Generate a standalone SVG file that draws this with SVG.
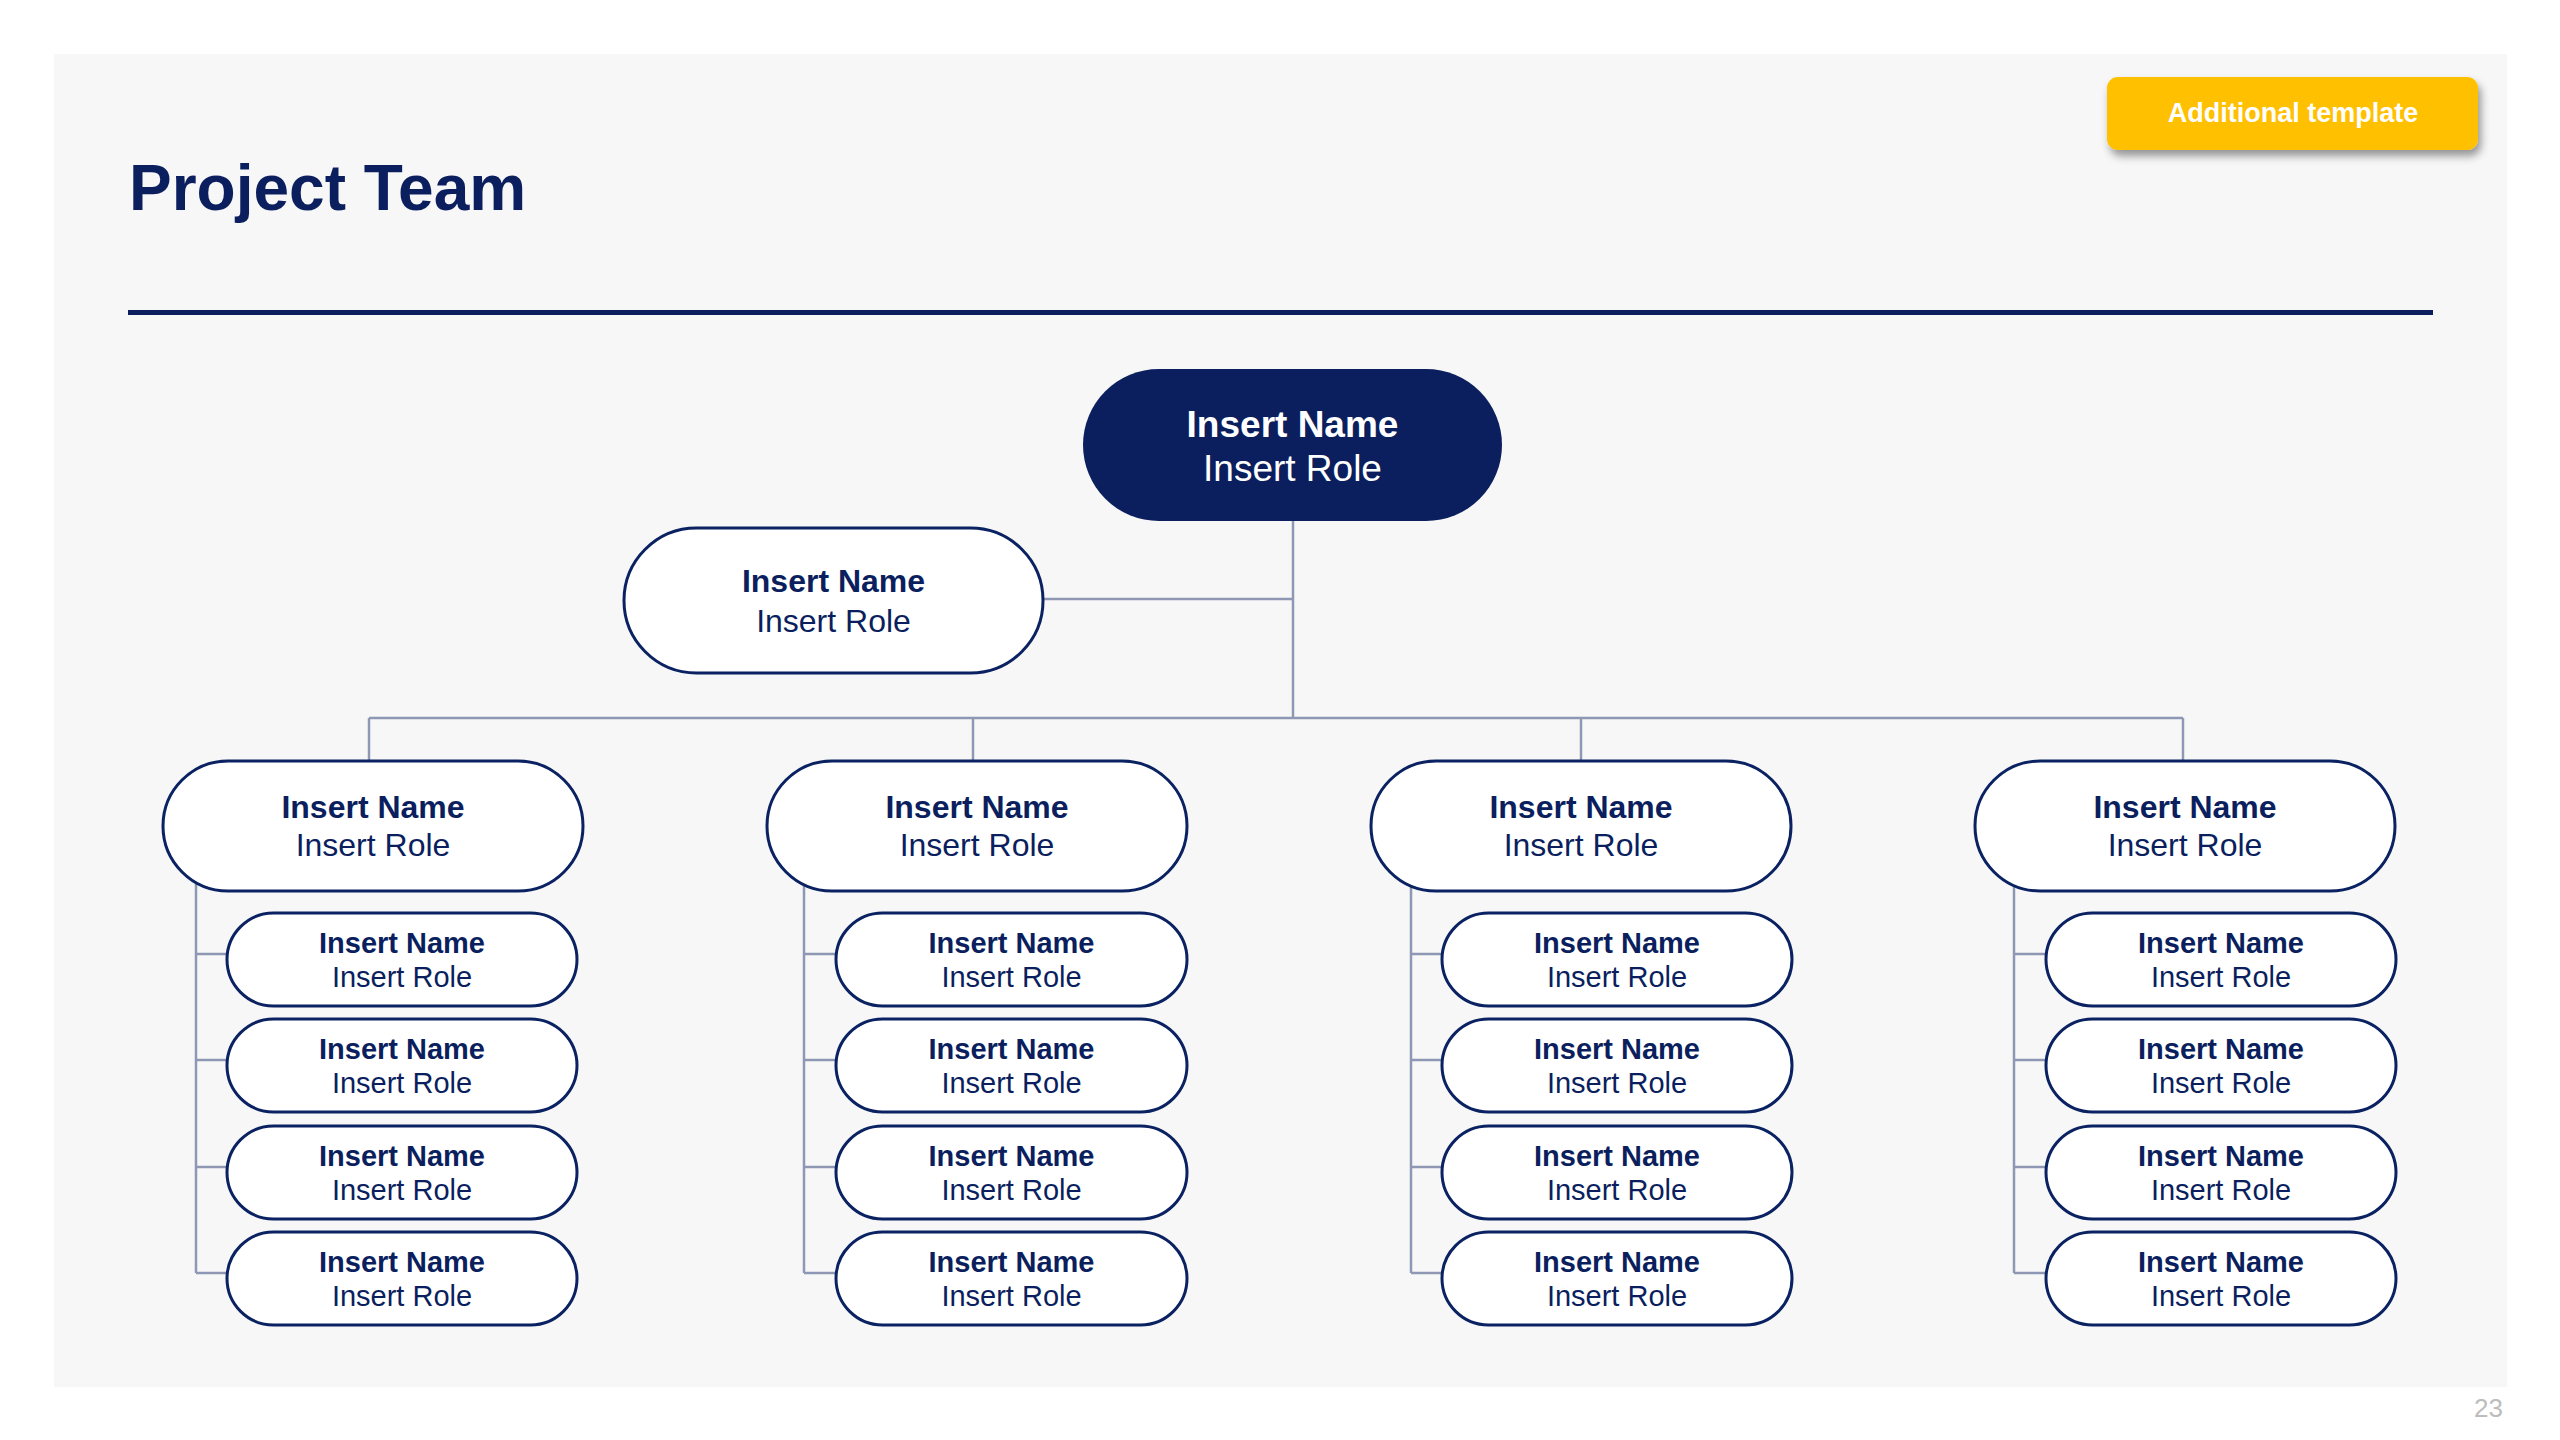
<svg xmlns="http://www.w3.org/2000/svg" width="2560" height="1440" viewBox="0 0 2560 1440">
  <defs>
    <style>
      .n { fill: #ffffff; stroke: #0b2262; stroke-width: 3; }
      .top { fill: #0b1f5e; stroke: none; }
      .c { fill: none; stroke: #8e98b4; stroke-width: 2.5; }
      .t { font-family: "Liberation Sans", Arial, sans-serif; text-anchor: middle; fill: #0b1f5e; }
      .b { font-weight: bold; }
    </style>
    <filter id="sh" x="-10%" y="-30%" width="125%" height="170%">
      <feDropShadow dx="3" dy="6" stdDeviation="4" flood-color="#000" flood-opacity="0.4"/>
    </filter>
  </defs>
  <rect x="0" y="0" width="2560" height="1440" fill="#ffffff"/>
  <rect x="54" y="54" width="2453" height="1333" fill="#f7f7f7"/>

  <g id="title">
    <text x="129" y="210" font-family="'Liberation Sans', Arial, sans-serif" font-size="64" font-weight="bold" fill="#0b1f5e">Project Team</text>
    <rect x="128" y="310" width="2305" height="5" fill="#0b1f5e"/>
  </g>

  <g id="btn-additional">
    <rect x="2107" y="77" width="371" height="73" rx="11" fill="#ffc000" filter="url(#sh)"/>
    <text x="2293" y="122" font-family="'Liberation Sans', Arial, sans-serif" font-size="27" font-weight="bold" fill="#ffffff" text-anchor="middle">Additional template</text>
  </g>

  <g id="connectors">
    <line class="c" x1="1293" y1="520" x2="1293" y2="718"/>
    <line class="c" x1="1043" y1="599" x2="1293" y2="599"/>
    <line class="c" x1="369" y1="718" x2="2183" y2="718"/>
    <line class="c" x1="369" y1="718" x2="369" y2="762"/>
    <line class="c" x1="973" y1="718" x2="973" y2="762"/>
    <line class="c" x1="1581" y1="718" x2="1581" y2="762"/>
    <line class="c" x1="2183" y1="718" x2="2183" y2="762"/>
    <path class="c" d="M196 880 V1273 M196 954 H228 M196 1060 H228 M196 1167 H228 M196 1273 H228"/>
    <path class="c" d="M804 880 V1273 M804 954 H837 M804 1060 H837 M804 1167 H837 M804 1273 H837"/>
    <path class="c" d="M1411 880 V1273 M1411 954 H1443 M1411 1060 H1443 M1411 1167 H1443 M1411 1273 H1443"/>
    <path class="c" d="M2014 880 V1273 M2014 954 H2047 M2014 1060 H2047 M2014 1167 H2047 M2014 1273 H2047"/>
  </g>

  <g id="node-top">
    <rect class="top" x="1083" y="369" width="419" height="152" rx="76"/>
    <text class="t b" x="1292.5" y="437" font-size="37" style="fill:#ffffff">Insert Name</text>
    <text class="t" x="1292.5" y="481" font-size="37" style="fill:#ffffff">Insert Role</text>
  </g>

  <g id="node-assistant">
    <rect class="n" x="624" y="528" width="419" height="145" rx="72.5"/>
    <text class="t b" x="833.5" y="592" font-size="32">Insert Name</text>
    <text class="t" x="833.5" y="632" font-size="32">Insert Role</text>
  </g>

  <g id="node-c1">
    <rect class="n" x="163" y="761" width="420" height="130" rx="65"/>
    <text class="t b" x="373" y="818" font-size="32">Insert Name</text>
    <text class="t" x="373" y="856" font-size="32">Insert Role</text>
  </g>
  <g id="node-c2">
    <rect class="n" x="767" y="761" width="420" height="130" rx="65"/>
    <text class="t b" x="977" y="818" font-size="32">Insert Name</text>
    <text class="t" x="977" y="856" font-size="32">Insert Role</text>
  </g>
  <g id="node-c3">
    <rect class="n" x="1371" y="761" width="420" height="130" rx="65"/>
    <text class="t b" x="1581" y="818" font-size="32">Insert Name</text>
    <text class="t" x="1581" y="856" font-size="32">Insert Role</text>
  </g>
  <g id="node-c4">
    <rect class="n" x="1975" y="761" width="420" height="130" rx="65"/>
    <text class="t b" x="2185" y="818" font-size="32">Insert Name</text>
    <text class="t" x="2185" y="856" font-size="32">Insert Role</text>
  </g>

  <g id="node-c1-1"><rect class="n" x="227" y="913" width="350" height="93" rx="46.5"/><text class="t b" x="402" y="953" font-size="29">Insert Name</text><text class="t" x="402" y="987" font-size="29">Insert Role</text></g>
  <g id="node-c1-2"><rect class="n" x="227" y="1019" width="350" height="93" rx="46.5"/><text class="t b" x="402" y="1059" font-size="29">Insert Name</text><text class="t" x="402" y="1093" font-size="29">Insert Role</text></g>
  <g id="node-c1-3"><rect class="n" x="227" y="1126" width="350" height="93" rx="46.5"/><text class="t b" x="402" y="1166" font-size="29">Insert Name</text><text class="t" x="402" y="1200" font-size="29">Insert Role</text></g>
  <g id="node-c1-4"><rect class="n" x="227" y="1232" width="350" height="93" rx="46.5"/><text class="t b" x="402" y="1272" font-size="29">Insert Name</text><text class="t" x="402" y="1306" font-size="29">Insert Role</text></g>

  <g id="node-c2-1"><rect class="n" x="836" y="913" width="351" height="93" rx="46.5"/><text class="t b" x="1011.5" y="953" font-size="29">Insert Name</text><text class="t" x="1011.5" y="987" font-size="29">Insert Role</text></g>
  <g id="node-c2-2"><rect class="n" x="836" y="1019" width="351" height="93" rx="46.5"/><text class="t b" x="1011.5" y="1059" font-size="29">Insert Name</text><text class="t" x="1011.5" y="1093" font-size="29">Insert Role</text></g>
  <g id="node-c2-3"><rect class="n" x="836" y="1126" width="351" height="93" rx="46.5"/><text class="t b" x="1011.5" y="1166" font-size="29">Insert Name</text><text class="t" x="1011.5" y="1200" font-size="29">Insert Role</text></g>
  <g id="node-c2-4"><rect class="n" x="836" y="1232" width="351" height="93" rx="46.5"/><text class="t b" x="1011.5" y="1272" font-size="29">Insert Name</text><text class="t" x="1011.5" y="1306" font-size="29">Insert Role</text></g>

  <g id="node-c3-1"><rect class="n" x="1442" y="913" width="350" height="93" rx="46.5"/><text class="t b" x="1617" y="953" font-size="29">Insert Name</text><text class="t" x="1617" y="987" font-size="29">Insert Role</text></g>
  <g id="node-c3-2"><rect class="n" x="1442" y="1019" width="350" height="93" rx="46.5"/><text class="t b" x="1617" y="1059" font-size="29">Insert Name</text><text class="t" x="1617" y="1093" font-size="29">Insert Role</text></g>
  <g id="node-c3-3"><rect class="n" x="1442" y="1126" width="350" height="93" rx="46.5"/><text class="t b" x="1617" y="1166" font-size="29">Insert Name</text><text class="t" x="1617" y="1200" font-size="29">Insert Role</text></g>
  <g id="node-c3-4"><rect class="n" x="1442" y="1232" width="350" height="93" rx="46.5"/><text class="t b" x="1617" y="1272" font-size="29">Insert Name</text><text class="t" x="1617" y="1306" font-size="29">Insert Role</text></g>

  <g id="node-c4-1"><rect class="n" x="2046" y="913" width="350" height="93" rx="46.5"/><text class="t b" x="2221" y="953" font-size="29">Insert Name</text><text class="t" x="2221" y="987" font-size="29">Insert Role</text></g>
  <g id="node-c4-2"><rect class="n" x="2046" y="1019" width="350" height="93" rx="46.5"/><text class="t b" x="2221" y="1059" font-size="29">Insert Name</text><text class="t" x="2221" y="1093" font-size="29">Insert Role</text></g>
  <g id="node-c4-3"><rect class="n" x="2046" y="1126" width="350" height="93" rx="46.5"/><text class="t b" x="2221" y="1166" font-size="29">Insert Name</text><text class="t" x="2221" y="1200" font-size="29">Insert Role</text></g>
  <g id="node-c4-4"><rect class="n" x="2046" y="1232" width="350" height="93" rx="46.5"/><text class="t b" x="2221" y="1272" font-size="29">Insert Name</text><text class="t" x="2221" y="1306" font-size="29">Insert Role</text></g>

  <text x="2503" y="1417" font-family="'Liberation Sans', Arial, sans-serif" font-size="26" fill="#bdbdbd" text-anchor="end">23</text>
</svg>
